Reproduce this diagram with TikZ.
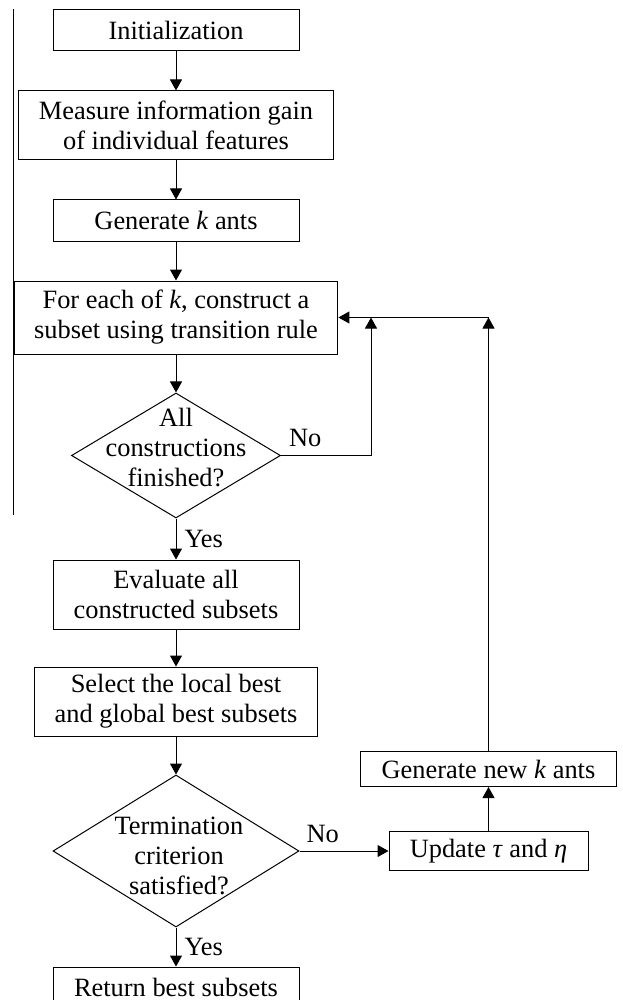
\documentclass[tikz,border=0pt]{standalone}
\usepackage{fontspec}
\setmainfont{Liberation Serif}
\usetikzlibrary{positioning,arrows.meta,shapes.geometric}

\begin{document}
\begin{tikzpicture}[
    >={Triangle[width=6pt,length=5.5pt]},
    line width=0.5pt,
    node distance=19.5pt,
    every node/.style={font=\fontsize{13.2}{15}\selectfont},
    block/.style={
      rectangle, draw, line width=0.5pt,
      minimum width=123pt, minimum height=20.5pt,
      inner xsep=10pt, inner ysep=2pt,
      align=center
    },
    decision/.style={
      diamond, draw, line width=0.5pt,
      inner sep=0pt
    },
    dectext/.style={align=center, inner sep=0pt},
    sidebox/.style={
      rectangle, draw, line width=0.5pt,
      inner xsep=8pt, inner ysep=2pt,
      align=center
    },
    edgelabel/.style={inner sep=2pt},
  ]

  % Frame
  \useasboundingbox (0,0) rectangle (311pt,-500pt);

  % Main column
  \node[block] (init) at (88pt,-15.25pt) {Initialization};
  \node[block, minimum height=34.5pt] (gain) [below=of init]
    {Measure information gain\\of individual features};
  \node[block] (ants) [below=of gain] {Generate \textit{k} ants};
  \node[block, minimum height=36.5pt] (construct) [below=of ants]
    {For each of \textit{k}, construct a\\subset using transition rule};
  \node[decision, minimum width=104.5pt, minimum height=62.5pt] (finished)
    [below=19pt of construct] {};
  \node[dectext, yshift=4pt] (finished-txt) at (finished)
    {All\\constructions\\finished?};
  \node[block, minimum height=34.5pt] (evaluate) [below=20.5pt of finished]
    {Evaluate all\\constructed subsets};
  \node[block, minimum height=34.5pt] (select) [below=18.5pt of evaluate]
    {Select the local best\\and global best subsets};
  \node[decision, minimum width=123pt, minimum height=76pt] (term)
    [below=19pt of select] {};
  \node[dectext, xshift=1.5pt, yshift=-2.5pt] (term-txt) at (term)
    {Termination\\criterion\\satisfied?};
  \node[block] (result) [below=of term] {Return best subsets};

  % Update column
  \node[sidebox, minimum width=99.5pt, minimum height=19.5pt] (update)
    [right=44.5pt of term] {Update \textit{τ} and \textit{η}};
  \node[sidebox, minimum width=128pt, minimum height=17.5pt] (newants)
    [above=22pt of update] {Generate new \textit{k} ants};

  % Stray rule at the left
  \coordinate (ruletop) at (construct.west |- init.north);
  \coordinate (rulebot) at ([yshift=2pt]construct.west |- finished.south);
  \draw (ruletop) -- (rulebot);

  % Straight flow
  \draw[->] (init) -- (gain);
  \draw[->] (gain) -- (ants);
  \draw[->] (ants) -- (construct);
  \draw[->] (construct) -- (finished);
  \draw[->] (finished) -- node[edgelabel, right=2pt] {Yes} (evaluate);
  \draw[->] (evaluate) -- (select);
  \draw[->] (select) -- (term);
  \draw[->] (term) -- node[edgelabel, right=2pt] {Yes} (result);

  % Loops back
  \coordinate (nojoin) at ([xshift=45pt]finished.east);
  \coordinate (loopjoin) at (newants.north |- construct.east);
  \draw[->] (finished.east) -- node[edgelabel, pos=0.27, above=2pt] {No} (nojoin)
    -- (nojoin |- construct.east);
  \draw[->] (term.east) -- node[edgelabel, pos=0.26, above=2pt] {No} (update.west);
  \draw[->] (update) -- (newants);
  \draw[->] (newants) -- (loopjoin);
  \draw[->] (loopjoin) -- (construct.east);

\end{tikzpicture}
\end{document}
